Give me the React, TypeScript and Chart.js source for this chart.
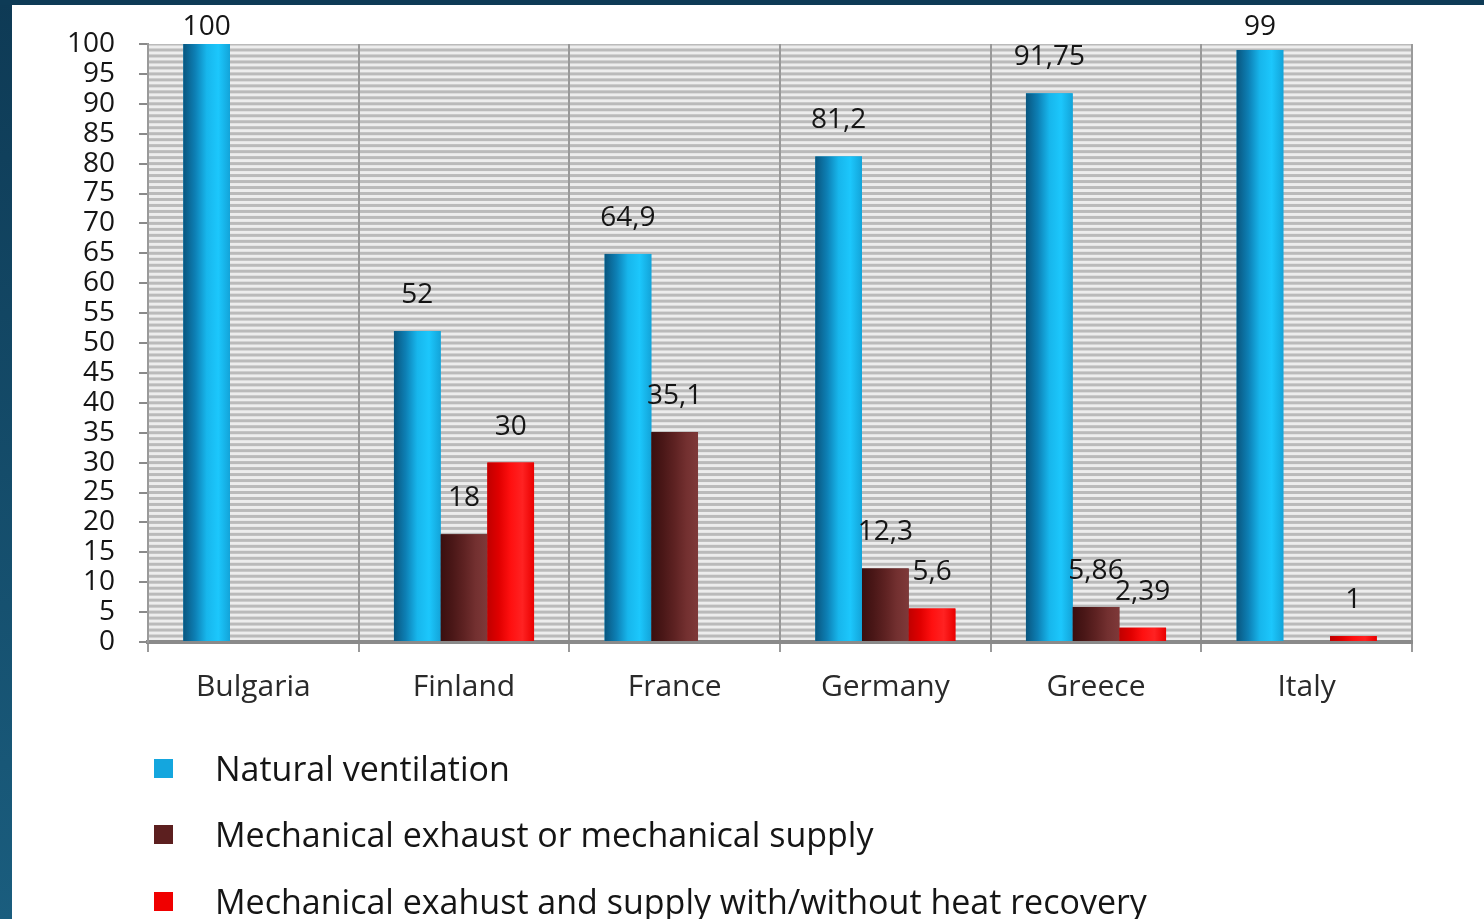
import React, { useEffect, useRef } from "react";
import { Chart, registerables } from "chart.js";

Chart.register(...registerables);

// ---- data ----
const categories = ["Bulgaria", "Finland", "France", "Germany", "Greece", "Italy"];
const seriesNames = [
  "Natural ventilation",
  "Mechanical exhaust or mechanical supply",
  "Mechanical exahust and supply with/without heat recovery",
];
const naturalVentilation = [100, 52, 64.9, 81.2, 91.75, 99];
const mechanicalExhaustOrSupply = [null, 18, 35.1, 12.3, 5.86, null];
const mechanicalExhaustAndSupply = [null, 30, null, 5.6, 2.39, 1];
const yMin = 0;
const yMax = 100;
const yStep = 5;

// ---- styles ----
const FONT = "'Open Sans', 'Noto Sans', sans-serif";
const seriesColors = ["#14a6de", "#5c1f1f", "#f00000"];
const seriesGradients = [
  ["#09567f", "#0d7fb4", "#17b6ec", "#1cc7fc", "#13a4d9"],
  ["#3a0f0f", "#4a1717", "#5e2222", "#733030", "#7e3939"],
  ["#c00000", "#e00000", "#ff1010", "#ff2222", "#ea0000"],
];

const formatValue = (v: number) => String(v).replace(".", ",");

const stripesPlugin = {
  id: "stripes",
  beforeDraw(chart: any) {
    const { ctx, chartArea } = chart;
    const ys = chart.scales.y;
    if (!chartArea || !ys) return;
    ctx.save();
    ctx.fillStyle = "#ededed";
    ctx.fillRect(chartArea.left, chartArea.top, chartArea.right - chartArea.left, chartArea.bottom - chartArea.top);
    ctx.fillStyle = "#bababa";
    for (let v = yMin; v <= yMax; v += 1) {
      const y = ys.getPixelForValue(v);
      const top = Math.max(chartArea.top, y - 1.5);
      const bot = Math.min(chartArea.bottom, y + 1.5);
      ctx.fillRect(chartArea.left, top, chartArea.right - chartArea.left, bot - top);
    }
    ctx.restore();
  },
};

const shadePlugin = {
  id: "shade",
  afterDatasetsDraw(chart: any) {
    const ctx = chart.ctx;
    ctx.save();
    chart.data.datasets.forEach((ds: any, di: number) => {
      const meta = chart.getDatasetMeta(di);
      const stops = seriesGradients[di];
      meta.data.forEach((el: any, i: number) => {
        const v = ds.data[i];
        if (v === null || v === undefined) return;
        const { x, y, base, width } = el.getProps(["x", "y", "base", "width"], true);
        const l = x - width / 2;
        const g = ctx.createLinearGradient(l, 0, l + width, 0);
        stops.forEach((c: string, k: number) => g.addColorStop(k / (stops.length - 1), c));
        ctx.fillStyle = g;
        ctx.fillRect(l, Math.min(y, base), width, Math.abs(base - y));
      });
    });
    ctx.restore();
  },
};

const labelsPlugin = {
  id: "valueLabels",
  afterDatasetsDraw(chart: any) {
    const ctx = chart.ctx;
    ctx.save();
    ctx.font = `28px ${FONT}`;
    ctx.fillStyle = "#151515";
    ctx.textAlign = "center";
    ctx.textBaseline = "middle";
    chart.data.datasets.forEach((ds: any, di: number) => {
      const meta = chart.getDatasetMeta(di);
      meta.data.forEach((el: any, i: number) => {
        const v = ds.data[i];
        if (v === null || v === undefined) return;
        const { x, y } = el.getProps(["x", "y"], true);
        const ly = Math.max(y - 36, 27);
        ctx.fillText(formatValue(v), x, ly);
      });
    });
    ctx.restore();
  },
};

function Legend() {
  const rows = [769, 835, 902];
  return (
    <>
      {seriesNames.map((name, i) => (
        <div key={name}>
          <div
            style={{
              position: "absolute",
              left: 154,
              top: rows[i] - 10,
              width: 19,
              height: 19,
              background: seriesColors[i],
            }}
          />
          <div
            style={{
              position: "absolute",
              left: 215,
              top: rows[i] - 23,
              font: `34px ${FONT}`,
              lineHeight: "44px",
              color: "#151515",
              whiteSpace: "nowrap",
            }}
          >
            {name}
          </div>
        </div>
      ))}
    </>
  );
}

export default function App() {
  const ref = useRef<HTMLCanvasElement | null>(null);

  useEffect(() => {
    if (!ref.current) return;
    const chart = new Chart(ref.current, {
      type: "bar",
      data: {
        labels: categories,
        datasets: [
          { label: seriesNames[0], data: naturalVentilation, backgroundColor: seriesColors[0] },
          { label: seriesNames[1], data: mechanicalExhaustOrSupply, backgroundColor: seriesColors[1] },
          { label: seriesNames[2], data: mechanicalExhaustAndSupply, backgroundColor: seriesColors[2] },
        ],
      },
      options: {
        responsive: false,
        animation: false,
        devicePixelRatio: 1,
        layout: { padding: { left: 0, top: 44, right: 72, bottom: 919 - 642 - 80 } },
        datasets: { bar: { categoryPercentage: 0.665, barPercentage: 1, skipNull: false } },
        plugins: {
          legend: { display: false },
          tooltip: { enabled: false },
        },
        scales: {
          x: {
            grid: { offset: true, color: "#9a9a9a", lineWidth: 2, tickLength: 10, drawOnChartArea: true },
            border: { color: "#8a8a8a", width: 4 },
            ticks: { color: "#2a2a2a", font: { family: FONT, size: 30 }, padding: 17 },
            afterFit: (s: any) => {
              s.height = 80;
            },
          },
          y: {
            min: yMin,
            max: yMax,
            ticks: {
              stepSize: yStep,
              autoSkip: false,
              color: "#151515",
              font: { family: FONT, size: 28, lineHeight: 1 },
              padding: 24,
            },
            grid: { drawOnChartArea: false, color: "#8a8a8a", lineWidth: 2, tickLength: 9 },
            border: { color: "#9a9a9a", width: 2 },
            afterFit: (s: any) => {
              s.width = 148;
            },
          },
        },
      },
      plugins: [stripesPlugin, shadePlugin, labelsPlugin],
    });
    return () => chart.destroy();
  }, []);

  return (
    <div
      style={{
        position: "fixed",
        left: 0,
        top: 0,
        width: 1484,
        height: 919,
        background: "#ffffff",
        overflow: "hidden",
      }}
    >
      <div
        style={{
          position: "absolute",
          left: 0,
          top: 0,
          width: 12,
          height: 919,
          background: "linear-gradient(#0e3a55, #1a5d7e)",
        }}
      />
      <div style={{ position: "absolute", left: 0, top: 0, width: 1484, height: 5, background: "#0e3b56" }} />
      <canvas ref={ref} width={1484} height={919} style={{ position: "absolute", left: 0, top: 0 }} />
      <Legend />
    </div>
  );
}
